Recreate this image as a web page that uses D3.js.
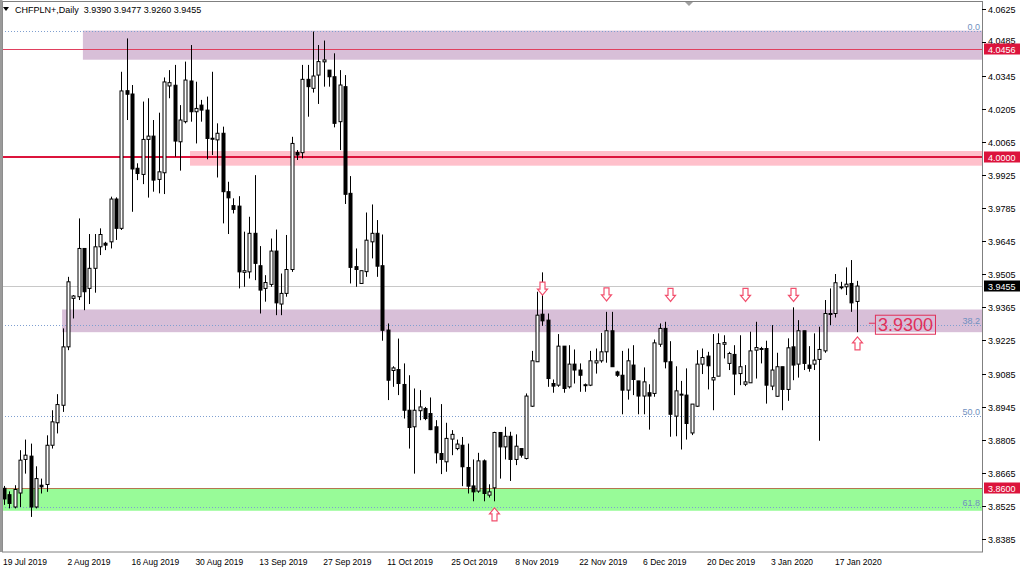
<!DOCTYPE html>
<html><head><meta charset="utf-8">
<script src="https://cdn.jsdelivr.net/npm/d3@7"></script>
<style>
body{margin:0;background:#fff;}
svg{display:block;}
text{font-family:"Liberation Sans",Arial,sans-serif;}
</style>
</head><body>
<svg id="chart" width="1024" height="570"></svg>
<script>
// ---------------- DATA ----------------
const dates = [
"2019-07-19","2019-07-21","2019-07-22","2019-07-23","2019-07-24","2019-07-25","2019-07-26","2019-07-28","2019-07-29","2019-07-30",
"2019-07-31","2019-08-01","2019-08-02","2019-08-04","2019-08-05","2019-08-06","2019-08-07","2019-08-08","2019-08-09","2019-08-11",
"2019-08-12","2019-08-13","2019-08-14","2019-08-15","2019-08-16","2019-08-18","2019-08-19","2019-08-20","2019-08-21","2019-08-22",
"2019-08-23","2019-08-25","2019-08-26","2019-08-27","2019-08-28","2019-08-29","2019-08-30","2019-09-01","2019-09-02","2019-09-03",
"2019-09-04","2019-09-05","2019-09-06","2019-09-08","2019-09-09","2019-09-10","2019-09-11","2019-09-12","2019-09-13","2019-09-15",
"2019-09-16","2019-09-17","2019-09-18","2019-09-19","2019-09-20","2019-09-22","2019-09-23","2019-09-24","2019-09-25","2019-09-26",
"2019-09-27","2019-09-29","2019-09-30","2019-10-01","2019-10-02","2019-10-03","2019-10-04","2019-10-06","2019-10-07","2019-10-08",
"2019-10-09","2019-10-10","2019-10-11","2019-10-13","2019-10-14","2019-10-15","2019-10-16","2019-10-17","2019-10-18","2019-10-20",
"2019-10-21","2019-10-22","2019-10-23","2019-10-24","2019-10-25","2019-10-27","2019-10-28","2019-10-29","2019-10-30","2019-10-31",
"2019-11-01","2019-11-03","2019-11-04","2019-11-05","2019-11-06","2019-11-07","2019-11-08","2019-11-10","2019-11-11","2019-11-12",
"2019-11-13","2019-11-14","2019-11-15","2019-11-17","2019-11-18","2019-11-19","2019-11-20","2019-11-21","2019-11-22","2019-11-24",
"2019-11-25","2019-11-26","2019-11-27","2019-11-28","2019-11-29","2019-12-01","2019-12-02","2019-12-03","2019-12-04","2019-12-05",
"2019-12-06","2019-12-08","2019-12-09","2019-12-10","2019-12-11","2019-12-12","2019-12-13","2019-12-15","2019-12-16","2019-12-17",
"2019-12-18","2019-12-19","2019-12-20","2019-12-22","2019-12-23","2019-12-24","2019-12-25","2019-12-26","2019-12-27","2019-12-29",
"2019-12-30","2019-12-31","2020-01-01","2020-01-02","2020-01-03","2020-01-05","2020-01-06","2020-01-07","2020-01-08","2020-01-09",
"2020-01-10","2020-01-12","2020-01-13","2020-01-14","2020-01-15","2020-01-16","2020-01-17","2020-01-19","2020-01-20","2020-01-21",
"2020-01-22"];

const open = [
3.8600,3.8573,3.8521,3.8580,3.8722,3.8736,3.8521,3.8613,3.8616,3.8782,
3.8877,3.8951,3.9198,3.9403,3.9410,3.9614,3.9445,3.9530,3.9621,3.9636,
3.9642,3.9823,3.9699,4.0281,4.0267,3.9953,3.9927,4.0075,4.0089,3.9906,
3.9934,4.0301,4.0304,4.0065,4.0150,4.0322,4.0192,4.0220,4.0199,4.0080,
4.0073,4.0101,3.9854,3.9795,3.9793,3.9513,3.9515,3.9678,3.9541,3.9445,
3.9462,3.9603,3.9379,3.9424,3.9525,4.0020,4.0019,4.0329,4.0291,4.0347,
4.0403,4.0368,4.0340,4.0150,4.0298,3.9847,3.9537,3.9466,3.9516,3.9642,
3.9678,3.9541,3.9269,3.9098,3.9102,3.9039,3.8930,3.8860,3.8928,3.8937,
3.8916,3.8860,3.8747,3.8712,3.8808,3.8768,3.8782,3.8688,3.8610,3.8588,
3.8716,3.8571,3.8602,3.8836,3.8775,3.8820,3.8722,3.8768,3.8726,3.8947,
3.9135,3.9336,3.9311,3.9043,3.9036,3.9201,3.9029,3.9125,3.9100,3.9034,
3.9036,3.9130,3.9139,3.9177,3.9266,3.9092,3.9078,3.9015,3.9121,3.9054,
3.8990,3.9004,3.9001,3.9209,3.9276,3.9135,3.8905,3.8998,3.8994,3.8834,
3.8947,3.9125,3.9159,3.9058,3.9074,3.9209,3.9128,3.9166,3.9085,3.9040,
3.9046,3.9184,3.9191,3.9191,3.9032,3.8989,3.9114,3.9018,3.9198,3.9125,
3.9266,3.9121,3.9125,3.9145,3.9181,3.9339,3.9339,3.9452,3.9452,3.9466,
3.9390];

const high = [
3.8610,3.8587,3.8613,3.8761,3.8806,3.8789,3.8693,3.8641,3.8824,3.8930,
3.8998,3.9276,3.9494,3.9417,3.9741,3.9614,3.9675,3.9675,3.9699,3.9642,
3.9833,3.9830,4.0361,4.0502,4.0305,3.9974,4.0235,4.0249,4.0157,4.0188,
4.0337,4.0368,4.0390,4.0220,4.0404,4.0474,4.0319,4.0242,4.0256,4.0361,
4.0143,4.0129,3.9896,3.9826,3.9835,3.9685,3.9748,3.9924,3.9624,3.9501,
3.9656,3.9694,3.9508,3.9671,4.0086,4.0030,4.0390,4.0390,4.0531,4.0474,
4.0493,4.0368,4.0439,4.0368,4.0347,3.9920,3.9614,3.9520,3.9766,3.9800,
3.9734,3.9673,3.9297,3.9116,3.9233,3.9128,3.9078,3.9022,3.9015,3.8944,
3.8984,3.8888,3.8956,3.8877,3.8846,3.8806,3.8817,3.8789,3.8722,3.8750,
3.8722,3.8617,3.8839,3.8836,3.8860,3.8839,3.8828,3.8768,3.9001,3.9181,
3.9431,3.9513,3.9339,3.9060,3.9252,3.9201,3.9205,3.9187,3.9128,3.9043,
3.9181,3.9191,3.9257,3.9346,3.9346,3.9097,3.9181,3.9191,3.9205,3.9054,
3.9111,3.9040,3.9229,3.9297,3.9304,3.9222,3.9116,3.9054,3.9107,3.8956,
3.9184,3.9191,3.9177,3.9252,3.9255,3.9247,3.9177,3.9205,3.9247,3.9121,
3.9262,3.9304,3.9198,3.9224,3.9290,3.9173,3.9114,3.9234,3.9365,3.9311,
3.9266,3.9201,3.9255,3.9283,3.9396,3.9445,3.9506,3.9473,3.9534,3.9565,
3.9477];

const low = [
3.8530,3.8515,3.8515,3.8521,3.8662,3.8479,3.8515,3.8578,3.8585,3.8768,
3.8832,3.8923,3.9184,3.9318,3.9396,3.9353,3.9379,3.9427,3.9586,3.9607,
3.9614,3.9650,3.9692,4.0157,3.9769,3.9903,3.9886,3.9829,3.9854,3.9847,
3.9844,4.0249,4.0002,3.9943,4.0143,4.0150,4.0058,4.0150,3.9991,4.0009,
3.9914,3.9720,3.9675,3.9762,3.9445,3.9452,3.9487,3.9480,3.9339,3.9389,
3.9452,3.9332,3.9332,3.9410,3.9515,3.9988,3.9995,4.0171,4.0273,4.0225,
4.0298,4.0298,4.0126,4.0030,3.9802,3.9466,3.9452,3.9466,3.9494,3.9572,
3.9494,3.9224,3.8973,3.9029,3.8994,3.8895,3.8768,3.8662,3.8888,3.8888,
3.8846,3.8705,3.8660,3.8670,3.8740,3.8761,3.8609,3.8578,3.8545,3.8581,
3.8545,3.8561,3.8545,3.8641,3.8722,3.8631,3.8698,3.8730,3.8722,3.8944,
3.9135,3.9287,3.9029,3.9004,3.9029,3.9004,3.9022,3.9043,3.9008,3.9008,
3.9032,3.9085,3.9131,3.9131,3.9114,3.9071,3.8913,3.8975,3.8994,3.8913,
3.8913,3.8848,3.8987,3.9198,3.9107,3.8818,3.8820,3.8764,3.8806,3.8825,
3.8944,3.9083,3.9018,3.8930,3.9074,3.9149,3.9100,3.8994,3.9036,3.9032,
3.9046,3.9064,3.9128,3.8958,3.9015,3.8987,3.8930,3.8970,3.9057,3.9068,
3.9100,3.9093,3.9100,3.8801,3.9173,3.9290,3.9322,3.9441,3.9417,3.9346,
3.9260];

const close = [
3.8555,3.8536,3.8595,3.8719,3.8740,3.8521,3.8641,3.8606,3.8782,3.8881,
3.8954,3.9198,3.9473,3.9413,3.9614,3.9431,3.9530,3.9621,3.9673,3.9628,
3.9823,3.9699,4.0280,4.0266,3.9950,3.9931,4.0075,4.0089,3.9903,3.9938,
4.0318,4.0315,4.0068,4.0157,4.0326,4.0192,4.0206,4.0199,4.0079,4.0076,
4.0101,3.9854,3.9828,3.9779,3.9515,3.9520,3.9678,3.9551,3.9438,3.9470,
3.9603,3.9384,3.9424,3.9525,4.0058,4.0009,4.0329,4.0298,4.0343,4.0404,
4.0411,4.0340,4.0143,4.0305,3.9843,3.9534,3.9525,3.9520,3.9649,3.9678,
3.9539,3.9268,3.9057,3.9109,3.9043,3.8930,3.8857,3.8930,3.8944,3.8895,
3.8848,3.8750,3.8722,3.8811,3.8828,3.8787,3.8691,3.8609,3.8585,3.8716,
3.8578,3.8585,3.8836,3.8775,3.8820,3.8722,3.8778,3.8740,3.8990,3.9139,
3.9332,3.9308,3.9064,3.9032,3.9201,3.9022,3.9125,3.9100,3.9078,3.9038,
3.9139,3.9139,3.9177,3.9266,3.9114,3.9078,3.9015,3.9139,3.9060,3.8990,
3.9050,3.8990,3.9215,3.9276,3.9135,3.8913,3.9012,3.8998,3.8874,3.8956,
3.9125,3.9153,3.9118,3.9068,3.9212,3.9216,3.9170,3.9083,3.9114,3.9050,
3.9181,3.9195,3.9191,3.9036,3.9100,3.9114,3.9018,3.9194,3.9121,3.9266,
3.9128,3.9107,3.9142,3.9187,3.9339,3.9339,3.9469,3.9452,3.9463,3.9384,
3.9455];

const priceTicks = [4.0625,4.0485,4.0345,4.0205,4.0065,3.9925,3.9785,3.9645,3.9505,3.9365,3.9225,3.9085,3.8945,3.8805,3.8665,3.8525,3.8385];
const timeTickDates = ["2019-07-19","2019-08-02","2019-08-16","2019-08-30","2019-09-13","2019-09-27","2019-10-11","2019-10-25","2019-11-08","2019-11-22","2019-12-06","2019-12-20","2020-01-03","2020-01-17"];
const timeTickLabels = ["19 Jul 2019","2 Aug 2019","16 Aug 2019","30 Aug 2019","13 Sep 2019","27 Sep 2019","11 Oct 2019","25 Oct 2019","8 Nov 2019","22 Nov 2019","6 Dec 2019","20 Dec 2019","3 Jan 2020","17 Jan 2020"];

// rectangles (support/resistance zones)
const zoneStartIdx = [14.8, 34.9, 10.9, -1];
const zoneTop = [4.0535, 4.0026, 3.9356, 3.8600];
const zoneBottom = [4.0412, 3.9964, 3.9260, 3.8505];
const zoneColor = ["#d8bfd8", "#ffc0cb", "#d8bfd8", "#98fb98"];

// fibonacci retracement
const fiboLevels = ["0.0", "38.2", "50.0", "61.8"];
const fiboPrices = [4.0535, 3.9289, 3.8905, 3.8520];

// horizontal lines
const hLinePrices = [4.0456, 4.0000, 3.8600, 3.9455];
const hLineColors = ["#e0405f", "#dc143c", "#b5764e", "#c8c8c8"];
const hLineWidths = [1, 2, 1.2, 1];
const hLabelText = ["4.0456", "4.0000", "3.8600", "3.9455"];
const hLabelBg = ["#dc143c", "#dc143c", "#dc143c", "#000000"];

// arrows
const arrowIdx = [101, 113, 125, 139, 148, 92, 160];
const arrowTip = [3.9417, 3.9392, 3.9390, 3.9390, 3.9390, 3.8517, 3.9240];
const arrowDir = ["down", "down", "down", "down", "down", "up", "up"];

const noteText = "3.9300";
const notePrice = 3.9300;
const noteIdx = 163.4;

const header = "CHFPLN+,Daily  3.9390 3.9477 3.9260 3.9455";

// ---------------- SCALES ----------------
const svg = d3.select("#chart");
const plotL = 2, plotR = 982, plotT = 2, plotB = 552;
const x = d3.scaleLinear().domain([0, 160]).range([4, 856.8]);
const y = d3.scaleLinear().domain([3.8600, 4.0456]).range([488.3, 49.3]);
const idxOf = d => dates.indexOf(d);

svg.append("rect").attr("width", 1024).attr("height", 570).attr("fill", "#fff");

svg.append("clipPath").attr("id", "pc").append("rect")
  .attr("x", plotL).attr("y", plotT).attr("width", plotR - plotL).attr("height", plotB - plotT);
const g = svg.append("g").attr("clip-path", "url(#pc)");

// zones
zoneTop.forEach((t, k) => {
  const x0 = Math.max(plotL, x(zoneStartIdx[k]));
  g.append("rect").attr("x", x0).attr("y", y(t))
    .attr("width", plotR - x0).attr("height", y(zoneBottom[k]) - y(t))
    .attr("fill", zoneColor[k]);
});

// horizontal lines
hLinePrices.forEach((p, k) => {
  const yy = Math.round(y(p)) + (hLineWidths[k] === 2 ? 0 : 0.5);
  g.append("line").attr("x1", plotL).attr("x2", plotR).attr("y1", yy).attr("y2", yy)
    .attr("stroke", hLineColors[k]).attr("stroke-width", hLineWidths[k]);
});

// fibo lines
fiboPrices.forEach((p, k) => {
  const yy = Math.round(y(p)) + 0.5;
  g.append("line").attr("x1", plotL).attr("x2", plotR).attr("y1", yy).attr("y2", yy)
    .attr("stroke", "#7f9fd0").attr("stroke-width", 1).attr("stroke-dasharray", "1,2");
  g.append("text").attr("x", plotR - 2).attr("y", yy - 2).attr("text-anchor", "end")
    .attr("font-size", 9).attr("fill", "#7090c0").text(fiboLevels[k]);
});

// candles
const cg = g.append("g");
dates.forEach((d, i) => {
  const cx = Math.round(x(i)) + 0.5;
  cg.append("line").attr("x1", cx).attr("x2", cx)
    .attr("y1", y(high[i])).attr("y2", y(low[i]))
    .attr("stroke", "#000").attr("stroke-width", 1);
  const up = close[i] >= open[i];
  const top = y(Math.max(open[i], close[i]));
  const bot = y(Math.min(open[i], close[i]));
  const h = Math.max(bot - top, 1);
  cg.append("rect").attr("x", cx - 1.5).attr("y", top).attr("width", 3).attr("height", h)
    .attr("fill", up ? "#fff" : "#000").attr("stroke", "#000").attr("stroke-width", 1);
});

// arrows
arrowIdx.forEach((ai, k) => {
  const ax = Math.round(x(ai)) + 0.5;
  const ay = y(arrowTip[k]);
  const s = arrowDir[k] === "down" ? 1 : -1;
  const pts = [[0,0],[-5,-6],[-2.5,-6],[-2.5,-13],[2.5,-13],[2.5,-6],[5,-6]]
    .map(p => [ax + p[0], ay + s * p[1]]);
  g.append("path").attr("d", d3.line()(pts) + "Z")
    .attr("fill", "#fff").attr("stroke", "#f2506e").attr("stroke-width", 1.2);
});

// note label
const nx = x(noteIdx), ny = y(notePrice);
g.append("line").attr("x1", nx - 6).attr("x2", nx).attr("y1", ny + 0.5).attr("y2", ny + 0.5)
  .attr("stroke", "#e0305a").attr("stroke-width", 1);
const nt = g.append("text").attr("x", nx + 3).attr("y", ny + 8).attr("font-size", 18)
  .attr("fill", "#e0305a").text(noteText);
const bb = nt.node().getBBox();
g.append("rect").attr("x", nx + 0.5).attr("y", ny - 7.5).attr("width", bb.width + 5).attr("height", 19)
  .attr("fill", "none").attr("stroke", "#e0305a").attr("stroke-width", 1);

// frame
svg.append("rect").attr("x", plotL + 0.5).attr("y", 1.5).attr("width", plotR - plotL).attr("height", plotB - 1.5)
  .attr("fill", "none").attr("stroke", "#808080").attr("stroke-width", 1);
svg.append("rect").attr("x", 0).attr("y", 0).attr("width", 2.5).attr("height", plotB).attr("fill", "#9a9a9a");

// top marker
svg.append("path").attr("d", "M685,2 L693,2 L689,6 Z").attr("fill", "#a0a0a0");

// header
svg.append("path").attr("d", "M3,7 L9,7 L6,11 Z").attr("fill", "#000");
svg.append("text").attr("x", 15).attr("y", 13).attr("font-size", 9).attr("fill", "#000")
  .attr("xml:space", "preserve").style("white-space", "pre").text(header);

// right price axis
const ra = svg.append("g");
priceTicks.forEach(p => {
  const yy = Math.round(y(p)) + 0.5;
  // nudge a label that would sit under a coloured price box
  const clash = hLinePrices.some(q => Math.abs(y(q) - y(p)) < 10);
  const ty = clash ? (y(p) < y(hLinePrices.find(q => Math.abs(y(q) - y(p)) < 10)) ? yy - 2.5 : yy + 2.5) : yy;
  ra.append("line").attr("x1", plotR).attr("x2", plotR + 4).attr("y1", yy).attr("y2", yy).attr("stroke", "#000");
  ra.append("text").attr("x", 988).attr("y", ty + 3.5).attr("font-size", 9).attr("fill", "#000").text(d3.format(".4f")(p));
});
hLinePrices.forEach((p, k) => {
  const yy = Math.round(y(p));
  ra.append("rect").attr("x", 984).attr("y", yy - 5.5).attr("width", 36).attr("height", 11).attr("fill", hLabelBg[k]);
  ra.append("text").attr("x", 988).attr("y", yy + 3.5).attr("font-size", 9).attr("fill", "#fff").text(hLabelText[k]);
});

// bottom time axis
const ta = svg.append("g");
timeTickDates.forEach((d, k) => {
  const xx = k === 0 ? 3 : x(idxOf(d)) - 0.5;
  ta.append("text").attr("x", xx).attr("y", 565).attr("font-size", 8.5).attr("fill", "#000").text(timeTickLabels[k]);
});
</script>
</body></html>
